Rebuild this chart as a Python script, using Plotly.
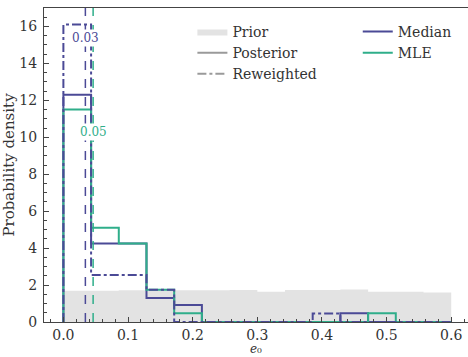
import plotly.graph_objects as go

# ---------------- data ----------------
BIN_EDGES = [0.0, 0.042857, 0.085714, 0.128571, 0.171429, 0.214286, 0.257143,
             0.3, 0.342857, 0.385714, 0.428571, 0.471429, 0.514286, 0.557143, 0.6]
PRIOR = [1.69, 1.69, 1.72, 1.72, 1.72, 1.72, 1.73, 1.64, 1.73, 1.73, 1.76, 1.64, 1.64, 1.60]
MEDIAN = [12.3, 4.25, 4.25, 1.30, 0.92, 0, 0, 0, 0, 0, 0.48, 0, 0, 0]
MLE = [11.5, 5.10, 4.25, 1.75, 0.47, 0, 0, 0, 0, 0, 0, 0.48, 0, 0]
REWEIGHTED = [16.1, 2.55, 2.55, 1.75, 0, 0, 0, 0, 0, 0.46, 0, 0, 0, 0]
MEDIAN_E0 = 0.034
MLE_E0 = 0.046
MEDIAN_LABEL_Y = 15.4
MLE_LABEL_Y = 10.3

C_MED = "#4B4A96"
C_MLE = "#2FAE8A"
C_GRAY = "#9a9a9a"
FONT = "DejaVu Serif"


def step_xy(edges, vals):
    xs = [edges[0]] + list(edges)
    ys = [0] + list(vals) + [0]
    return xs, ys


fig = go.Figure()

# prior filled histogram
px_, py_ = step_xy(BIN_EDGES, PRIOR)
fig.add_trace(go.Scatter(x=px_, y=py_, mode="lines", line=dict(width=0, shape="hv"),
                         fill="tozeroy", fillcolor="rgba(200,200,200,0.5)",
                         name="Prior", legend="legend"))

mx, my = step_xy(BIN_EDGES, MEDIAN)
fig.add_trace(go.Scatter(x=mx, y=my, mode="lines", line=dict(color=C_MED, width=2, shape="hv"),
                         showlegend=False))
gx, gy = step_xy(BIN_EDGES, MLE)
fig.add_trace(go.Scatter(x=gx, y=gy, mode="lines", line=dict(color=C_MLE, width=2, shape="hv"),
                         showlegend=False))
rx, ry = step_xy(BIN_EDGES, REWEIGHTED)
fig.add_trace(go.Scatter(x=rx, y=ry, mode="lines",
                         line=dict(color=C_MED, width=2, shape="hv", dash="dashdot"),
                         showlegend=False))

# vertical estimate lines
fig.add_vline(x=MEDIAN_E0, line=dict(color=C_MED, width=1.5, dash="dash"))
fig.add_vline(x=MLE_E0, line=dict(color=C_MLE, width=1.5, dash="dash"))
fig.add_annotation(x=MEDIAN_E0, y=MEDIAN_LABEL_Y, text=f"{MEDIAN_E0:.2f}", showarrow=False,
                   font=dict(family=FONT, size=12, color=C_MED), bgcolor="white", borderpad=1)
fig.add_annotation(x=MLE_E0, y=MLE_LABEL_Y, text=f"{MLE_E0:.2f}", showarrow=False,
                   font=dict(family=FONT, size=12, color=C_MLE), bgcolor="white", borderpad=1)

# x-axis title as annotation
fig.add_annotation(x=0.5, xref="paper", y=-0.1115, yref="paper", yanchor="bottom",
                   text="<i>e</i>₀", showarrow=False, borderpad=0,
                   font=dict(family=FONT, size=12, color="#333"))

# legend-only entries
fig.add_trace(go.Scatter(x=[None], y=[None], mode="lines", line=dict(color=C_GRAY, width=2),
                         name="Posterior", legend="legend"))
fig.add_trace(go.Scatter(x=[None], y=[None], mode="lines",
                         line=dict(color=C_GRAY, width=2, dash="dashdot"),
                         name="Reweighted", legend="legend"))
fig.add_trace(go.Scatter(x=[None], y=[None], mode="lines", line=dict(color=C_MED, width=2),
                         name="Median", legend="legend2"))
fig.add_trace(go.Scatter(x=[None], y=[None], mode="lines", line=dict(color=C_MLE, width=2),
                         name="MLE", legend="legend2"))

axis_common = dict(showline=True, linecolor="#444", linewidth=1, ticks="inside",
                   ticklen=5, tickcolor="#444", showgrid=False, zeroline=False,
                   tickfont=dict(family=FONT, size=14, color="#333"))

fig.update_layout(
    width=468, height=357,
    margin=dict(l=44, r=0, t=8, b=35),
    plot_bgcolor="white", paper_bgcolor="white",
    font=dict(family=FONT, size=15, color="#333"),
    xaxis=dict(range=[-0.03, 0.626], dtick=0.1, tick0=0, tickformat=".1f",
               mirror=True, ticklabelstandoff=0,
               minor=dict(dtick=0.02, ticks="inside", ticklen=3, tickcolor="#444"),
               **axis_common),
    yaxis=dict(range=[0, 17], dtick=2, tick0=0, ticklabelstandoff=3,
               minor=dict(dtick=0.5, ticks="inside", ticklen=3, tickcolor="#444"),
               title=dict(text="Probability density", standoff=4,
                          font=dict(family=FONT, size=15, color="#333")),
               **axis_common),
    legend=dict(x=0.35, y=0.975, xanchor="left", yanchor="top", bgcolor="rgba(0,0,0,0)",
                font=dict(family=FONT, size=14, color="#333"), itemwidth=30,
                tracegroupgap=0),
    legend2=dict(x=0.74, y=0.975, xanchor="left", yanchor="top", bgcolor="rgba(0,0,0,0)",
                 font=dict(family=FONT, size=14, color="#333"), itemwidth=30,
                 tracegroupgap=0),
)

fig.write_html("out.html")
